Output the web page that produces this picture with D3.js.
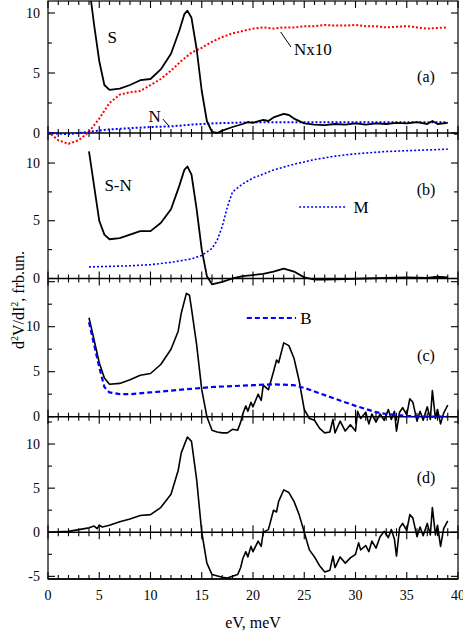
<!DOCTYPE html>
<html>
<head>
<meta charset="utf-8">
<script src="https://cdn.jsdelivr.net/npm/d3@7"></script>
<style>
body { margin: 0; background: #fff; }
svg text { font-family: 'Liberation Serif', 'Times New Roman', Times, serif; fill: #000; }
</style>
</head>
<body>
<script>
// --- data (x in meV, y in arb. units) ---
var sA = [[4.2,11],[4.5,9],[5,6],[5.5,4],[6,3.6],[7,3.7],[8,4.0],[9,4.4],[10,4.5],[11,5.3],[12,6.6],[12.8,8.5],[13.3,9.9],[13.6,10.2],[14,9.6],[14.5,7],[15,3.5],[15.5,1],[16,0.1],[16.5,0],[17,0.2],[18,0.5],[19,0.75],[19.5,0.9],[20,0.85],[21,1.1],[21.5,1.0],[22,1.3],[23,1.6],[23.5,1.5],[24,1.2],[25,0.8],[26,0.7],[27,0.65],[28,0.75],[29,0.7],[30,0.8],[31,0.7],[32,0.8],[33,0.75],[34,0.85],[35,0.8],[36,0.9],[37,0.75],[37.5,1.0],[38,0.75],[39,0.85]];
var nx10 = [[0,0.1],[1,-0.6],[2,-0.9],[3,-0.6],[4,0.1],[5,1.2],[6,2.5],[7,3.2],[8,3.4],[9,3.5],[10,4],[11,4.5],[12,5.2],[13,6],[14,6.7],[15,7.1],[16,7.6],[17,8],[18,8.3],[19,8.5],[20,8.7],[21,8.8],[22,8.7],[23,8.8],[24,8.8],[25,8.9],[26,8.9],[27,9],[28,8.95],[29,8.95],[30,9],[31,8.9],[32,8.9],[33,8.8],[34,8.85],[35,8.9],[36,8.8],[37,8.7],[38,8.75],[39,8.8]];
var nA = [[0,0],[2,-0.1],[3,0],[4,0.1],[6,0.3],[8,0.4],[10,0.5],[12,0.55],[14,0.7],[16,0.8],[18,0.85],[20,0.9],[25,0.9],[30,0.9],[39,0.9]];
var snB = [[4,11],[4.5,8],[5,5],[5.5,3.8],[6,3.4],[7,3.5],[8,3.8],[9,4.1],[10,4.1],[11,4.8],[12,6],[12.8,8],[13.3,9.4],[13.6,9.7],[14,9],[14.5,6],[15,2.5],[15.5,0.2],[16,-0.5],[17,-0.3],[18,0],[19,0.2],[20,0.3],[21,0.4],[22,0.6],[23,0.85],[24,0.6],[25,0.1],[26,-0.1],[27,-0.1],[29,-0.05],[31,0],[33,0.05],[35,0.1],[37,0.05],[38,0.15],[39,0.1]];
var mB = [[4,1],[6,1.05],[8,1.1],[10,1.2],[12,1.4],[14,1.7],[15,2.0],[16,2.6],[16.5,3.3],[17,4.5],[17.5,6.2],[18,7.5],[19,8.2],[20,8.7],[22,9.4],[24,9.9],[26,10.3],[28,10.6],[30,10.8],[33,11],[36,11.1],[39,11.2]];
var sC = [[4,11],[4.5,8.5],[5,6],[5.5,4.3],[6,3.6],[7,3.7],[8,4.1],[9,4.6],[10,4.8],[11,5.8],[12,7.5],[12.7,9.5],[13,11.5],[13.5,13.7],[13.8,13.5],[14,12],[14.5,8],[15,3],[15.5,0],[16,-1.5],[16.5,-1.7],[17,-1.8],[17.5,-1.8],[18,-1.4],[18.5,-1.5],[18.8,-0.6],[19,0.3],[19.3,1.2],[19.5,0.6],[19.8,1.6],[20,1.1],[20.5,2.5],[20.8,1.8],[21,3.5],[21.5,3],[22,5],[22.3,6.3],[22.5,6],[23,8.2],[23.5,7.9],[24,6.5],[24.5,4],[25,0.8],[25.5,-0.2],[26,-0.4],[26.5,-1.3],[27,-1.8],[27.5,-1.7],[27.8,-0.3],[28,-1.8],[28.5,-0.5],[29,-1.6],[29.5,-0.9],[30,-1.6],[30.2,0.6],[30.5,-0.2],[31,0.5],[31.3,-0.8],[31.6,0.3],[32,-0.6],[32.4,0.3],[32.8,-0.4],[33.2,0.8],[33.5,-0.3],[33.8,0.6],[34,-1.6],[34.3,0.5],[34.6,1.0],[35,0.2],[35.3,2.0],[35.6,1.6],[36,-0.5],[36.3,0.6],[36.6,-0.4],[37,1.1],[37.3,-0.3],[37.5,2.9],[37.8,-0.2],[38,0.8],[38.3,-0.8],[38.6,0.4],[39,1.3]];
var bC = [[4,10.5],[4.5,8],[5,5.5],[5.5,3.3],[6,2.7],[7,2.5],[8,2.5],[10,2.7],[12,2.9],[14,3.1],[16,3.3],[18,3.4],[20,3.5],[22,3.6],[24,3.5],[25,3.2],[26,2.8],[28,2],[30,1.2],[32,0.5],[33,0.3],[35,0.1],[37,0],[39,0]];
var dD = [[0,0],[2,0.1],[3,0.3],[4,0.5],[4.5,0.7],[4.8,0.4],[5,0.8],[5.3,0.6],[6,0.8],[7,1.2],[8,1.5],[9,1.9],[10,2],[11,2.8],[12,4.3],[12.7,7],[13,9],[13.6,10.8],[14,10.3],[14.5,6],[15,0],[15.5,-3.5],[16,-4.8],[17,-5.1],[17.5,-5.2],[18,-5],[18.5,-4.8],[18.8,-4],[19,-3],[19.3,-2.2],[19.5,-2.8],[19.8,-1.6],[20,-2.2],[20.5,-1],[20.8,-1.6],[21,0],[21.5,0.3],[22,2.5],[22.3,2.3],[22.5,3.5],[23,4.8],[23.5,4.5],[24,3.5],[24.5,2],[25,0],[25.5,-2],[26,-2.8],[26.5,-3.8],[27,-4.5],[27.5,-4.3],[27.8,-2.7],[28,-4],[28.5,-2.8],[29,-3.5],[29.5,-2.9],[30,-2.5],[30.3,-1.2],[30.5,-2],[31,-1.5],[31.3,-2.2],[31.6,-1],[32,-1.8],[32.4,-0.5],[32.8,0.1],[33.2,-0.6],[33.5,0.3],[33.8,-0.8],[34,-2.7],[34.3,0.5],[34.6,1.0],[35,0.2],[35.3,2.0],[35.6,1.6],[36,-0.5],[36.3,0.6],[36.6,-0.4],[37,1.0],[37.3,-0.3],[37.5,2.8],[37.8,-0.3],[38,0.8],[38.3,-1.6],[38.6,0.4],[39,1.3]];

var xTicks = [0, 5, 10, 15, 20, 25, 30, 35, 40];

var W = 463, H = 635;
var svg = d3.select("body").append("svg").attr("width", W).attr("height", H);
var x = d3.scaleLinear().domain([0, 40]).range([48, 458]);

// panels: domain and pixel range
var panels = [
  { dom: [0, 11], rng: [133, 1], ticks: [0, 5, 10], label: "(a)", ly: 77 },
  { dom: [0, 12.6], rng: [278.5, 133], ticks: [0, 5, 10], label: "(b)", ly: 190 },
  { dom: [-1.9, 15.3], rng: [433.8, 279], ticks: [0, 5, 10], label: "(c)", ly: 356 },
  { dom: [-5.3, 13.1], rng: [579, 416.7], ticks: [-5, 0, 5, 10], label: "(d)", ly: 478 }
];
panels.forEach(function (p) { p.y = d3.scaleLinear().domain(p.dom).range(p.rng); });

function line(y) {
  return d3.line().x(function (d) { return x(d[0]); }).y(function (d) { return y(d[1]); });
}

// frame
svg.append("rect").attr("x", 48).attr("y", 1).attr("width", 410).attr("height", 578)
  .attr("fill", "none").attr("stroke", "#000").attr("stroke-width", 1.2);

// horizontal tick rows: zero lines and bottom
function xRow(py, up, down) {
  svg.append("line").attr("x1", 48).attr("x2", 458).attr("y1", py).attr("y2", py)
    .attr("stroke", "#000").attr("stroke-width", 1.5);
  d3.range(0, 41).forEach(function (v) {
    var L = v % 5 === 0 ? 7 : 4;
    svg.append("line").attr("x1", x(v)).attr("x2", x(v))
      .attr("y1", py - (up ? L : 0)).attr("y2", py + (down ? L : 0))
      .attr("stroke", "#000").attr("stroke-width", 1.1);
  });
}
panels.forEach(function (p) { xRow(p.y(0), true, true); });
xRow(579, true, false);
// top ticks
d3.range(0, 41).forEach(function (v) {
  var L = v % 5 === 0 ? 7 : 4;
  svg.append("line").attr("x1", x(v)).attr("x2", x(v)).attr("y1", 1).attr("y2", 1 + L)
    .attr("stroke", "#000").attr("stroke-width", 1.1);
});

// y ticks on both sides
panels.forEach(function (p, i) {
  var lo = i === 3 ? -5 : 0;
  d3.range(lo, p.dom[1] + 0.01, 2.5).forEach(function (v) {
    var py = p.y(v);
    var L = v % 5 === 0 ? 7 : 4;
    [[48, 1], [458, -1]].forEach(function (s) {
      svg.append("line").attr("x1", s[0]).attr("x2", s[0] + s[1] * L)
        .attr("y1", py).attr("y2", py).attr("stroke", "#000").attr("stroke-width", 1.1);
    });
  });
  p.ticks.forEach(function (v) {
    svg.append("text").attr("x", 40).attr("y", p.y(v) + 4.5).attr("text-anchor", "end")
      .attr("font-size", 14).text(v);
  });
  svg.append("text").attr("x", 426).attr("y", p.ly + 5).attr("text-anchor", "middle")
    .attr("font-size", 16).text(p.label);
});

// x tick labels
xTicks.forEach(function (v) {
  svg.append("text").attr("x", x(v)).attr("y", 600).attr("text-anchor", "middle")
    .attr("font-size", 14).text(v);
});
svg.append("text").attr("x", 253).attr("y", 628).attr("text-anchor", "middle")
  .attr("font-size", 16).text("eV, meV");
svg.append("text").attr("transform", "translate(24,300) rotate(-90)").attr("text-anchor", "middle")
  .attr("font-size", 16)
  .html('d<tspan dy="-6" font-size="10">2</tspan><tspan dy="6">V/dI</tspan><tspan dy="-6" font-size="10">2</tspan><tspan dy="6">, frb.un.</tspan>');

function draw(data, y, color, width, dash) {
  svg.append("path").datum(data).attr("d", line(y)).attr("fill", "none")
    .attr("stroke", color).attr("stroke-width", width)
    .attr("stroke-dasharray", dash || null).attr("stroke-linejoin", "round");
}

var ya = panels[0].y, yb = panels[1].y, yc = panels[2].y, yd = panels[3].y;
draw(nx10, ya, "#f00", 2, "2,2");
draw(nA, ya, "#00f", 2, "2,2");
draw(sA, ya, "#000", 1.8);
draw(mB, yb, "#00f", 1.6, "2,2");
draw(snB, yb, "#000", 1.8);
draw(sC, yc, "#000", 1.6);
draw(bC, yc, "#00f", 2.2, "5,3");
draw(dD, yd, "#000", 1.6);

// annotations
function txt(xv, py, s) {
  svg.append("text").attr("x", x(xv)).attr("y", py).attr("font-size", 17).text(s);
}
txt(5.8, 43, "S");
txt(24, 55, "Nx10");
svg.append("line").attr("x1", x(22.7)).attr("x2", x(23.7)).attr("y1", 32).attr("y2", 47).attr("stroke", "#000");
txt(9.8, 122, "N");
svg.append("line").attr("x1", x(11.2)).attr("x2", x(11.8)).attr("y1", 119).attr("y2", 126).attr("stroke", "#000");
txt(5.5, 191, "S-N");
svg.append("line").attr("x1", x(24.5)).attr("x2", x(29)).attr("y1", 207).attr("y2", 207)
  .attr("stroke", "#00f").attr("stroke-width", 1.6).attr("stroke-dasharray", "2,2");
txt(29.8, 213, "M");
svg.append("line").attr("x1", x(19.4)).attr("x2", x(24.2)).attr("y1", 318).attr("y2", 318)
  .attr("stroke", "#00f").attr("stroke-width", 2.2).attr("stroke-dasharray", "5,3");
txt(24.6, 324, "B");
</script>
</body>
</html>
